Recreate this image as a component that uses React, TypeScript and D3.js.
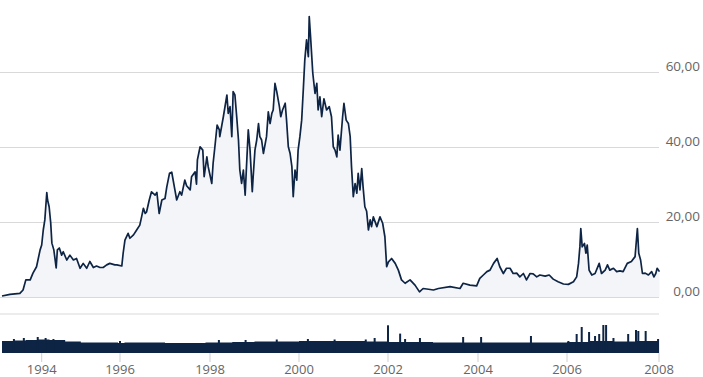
import React from "react";
import * as d3 from "d3";

// Price series: decimal year, price
const priceYears = [
  1993.0, 1993.2, 1993.45, 1993.53, 1993.6, 1993.71, 1993.78, 1993.87, 1993.96,
  1994.0, 1994.04, 1994.08, 1994.13, 1994.15, 1994.19, 1994.23, 1994.26, 1994.31, 1994.37, 1994.4,
  1994.45, 1994.51, 1994.55, 1994.64, 1994.72, 1994.81, 1994.89, 1994.98, 1995.06, 1995.15,
  1995.23, 1995.32, 1995.4, 1995.49, 1995.57, 1995.66, 1995.74, 1995.87, 1995.92,
  1996.04, 1996.07, 1996.11, 1996.18, 1996.22, 1996.3, 1996.37, 1996.44, 1996.48, 1996.52,
  1996.56, 1996.59, 1996.65, 1996.7, 1996.78, 1996.82, 1996.87, 1996.93, 1997.0, 1997.04,
  1997.1, 1997.15, 1997.22, 1997.26, 1997.33, 1997.37, 1997.44, 1997.48, 1997.56, 1997.59,
  1997.67, 1997.7, 1997.72, 1997.78, 1997.84, 1997.87, 1997.93, 1997.96,
  1998.04, 1998.07, 1998.11, 1998.16, 1998.21, 1998.22, 1998.3, 1998.38, 1998.41, 1998.45,
  1998.49, 1998.52, 1998.56, 1998.6, 1998.64, 1998.67, 1998.71, 1998.75, 1998.79, 1998.82,
  1998.86, 1998.9, 1998.95, 1998.97, 1999.01, 1999.05, 1999.09, 1999.12, 1999.16, 1999.2,
  1999.27, 1999.31, 1999.35, 1999.39, 1999.42, 1999.46, 1999.5, 1999.56, 1999.59, 1999.63,
  1999.69, 1999.72, 1999.76, 1999.8, 1999.84, 1999.87, 1999.91, 1999.95, 1999.98,
  2000.02, 2000.06, 2000.1, 2000.13, 2000.17, 2000.21, 2000.23, 2000.26, 2000.31, 2000.36,
  2000.4, 2000.43, 2000.47, 2000.51, 2000.56, 2000.62, 2000.68, 2000.73, 2000.77, 2000.81,
  2000.85, 2000.88, 2000.92, 2000.98, 2001.01, 2001.06, 2001.11, 2001.15, 2001.18, 2001.22,
  2001.26, 2001.3, 2001.33, 2001.37, 2001.41, 2001.44, 2001.48, 2001.52, 2001.56, 2001.6,
  2001.63, 2001.67, 2001.75, 2001.82, 2001.88, 2001.93, 2001.97,
  2002.01, 2002.08, 2002.16, 2002.23, 2002.3, 2002.38, 2002.49, 2002.6, 2002.7, 2002.78,
  2002.9, 2003.01, 2003.12, 2003.38, 2003.6, 2003.67, 2003.82, 2003.97,
  2004.04, 2004.12, 2004.2, 2004.27, 2004.35, 2004.43, 2004.49, 2004.57, 2004.64, 2004.72,
  2004.79, 2004.87, 2004.94, 2005.02, 2005.09, 2005.17, 2005.24, 2005.32, 2005.39, 2005.51,
  2005.6, 2005.69, 2005.8, 2005.92,
  2006.03, 2006.14, 2006.21, 2006.25, 2006.28, 2006.3, 2006.33, 2006.38, 2006.41, 2006.44,
  2006.48, 2006.54, 2006.61, 2006.7, 2006.75, 2006.83, 2006.88, 2006.93, 2007.01, 2007.08,
  2007.15, 2007.22, 2007.31, 2007.4, 2007.48, 2007.53, 2007.56, 2007.6, 2007.64, 2007.7,
  2007.77, 2007.84, 2007.89, 2007.93, 2007.96, 2008.01,
];
const priceValues = [
  0.4, 0.85, 1.1, 2, 4.7, 4.7, 6.5, 8.2, 12.7,
  14, 18, 20.7, 28, 26, 24.2, 19.9, 14.5, 12.7, 7.9, 12.7,
  13.2, 11.3, 12.2, 10, 11.3, 10, 10.4, 7.8, 9.1, 7.8,
  9.6, 8, 8.4, 8, 8, 8.7, 9.1, 8.7, 8.7,
  8.4, 11.8, 15.3, 17.1, 15.8, 16.7, 18, 19.3, 21.5, 23.8,
  22.4, 22.8, 26, 28.2, 27.3, 28, 22.4, 26, 26.4, 29.5,
  33.1, 33.4, 28.7, 26, 28.2, 27.3, 31.3, 29.8, 28.7, 32.2,
  33.5, 30.2, 36.7, 40.2, 39.3, 32.2, 37.5, 34.9,
  30.4, 35.8, 40.2, 46, 44.7, 42.9, 48.2, 54, 49.1, 50.9,
  42.9, 54.9, 54, 48.2, 42, 34, 30.4, 34, 27.3, 34.9,
  44.7, 39.3, 28.2, 32.2, 39.3, 42, 46.4, 42.9, 42, 38.4,
  42.9, 49.5, 46.4, 49.1, 50, 57.1, 54.9, 50.9, 48.2, 50,
  51.8, 47.3, 40.2, 38.4, 34.9, 26.9, 34, 31.3, 39.3,
  42.9, 47.3, 56.2, 63.3, 68.7, 64.2, 74.9, 69.5, 59.8, 54.4,
  57.1, 50, 53.5, 48.2, 53, 50, 50.9, 48.2, 40.2, 39.3,
  37.5, 43.3, 39.3, 48.2, 51.8, 47.3, 46.4, 42.9, 34.9, 26.9,
  30.4, 27.8, 33.1, 28.7, 34.4, 29.5, 24.2, 23, 18, 20.7,
  18.9, 21.5, 18.9, 21.5, 19.8, 16.2, 8.2,
  9.5, 10.4, 9.1, 7.3, 4.7, 3.8, 4.7, 3.3, 1.5, 2.4,
  2.2, 2, 2.4, 2.9, 2.4, 3.8, 3.3, 3.1,
  5.1, 6, 6.9, 7.3, 9.1, 10.4, 8.2, 6.4, 7.8, 7.8,
  6.4, 6.5, 5.5, 6.4, 4.7, 6.4, 6.3, 5.5, 6, 5.7,
  6, 4.9, 4.2, 3.6,
  3.5, 4.2, 5.5, 9.1, 13.5, 18.4, 13.5, 14.4, 11.8, 14,
  7.3, 6, 6.4, 9.1, 6.4, 7.3, 8.7, 7.3, 7.8, 6.9,
  7.1, 6.9, 9.1, 9.6, 10.9, 18.4, 11.8, 10, 6.4, 6.5,
  6, 6.9, 5.5, 6.4, 7.8, 6.9,
];

// Volume: base level (step) and spikes
const volBaseYears = [1993.0, 1993.3, 1993.6, 1993.9, 1994.2, 1994.6, 1995.0, 1995.95, 1996.1, 1997.0, 1997.9, 1998.5, 1999.0, 1999.5, 2000.0, 2000.5, 2001.0, 2001.5, 2002.0, 2003.0, 2004.0, 2005.0, 2006.0, 2006.5, 2007.0, 2007.5, 2008.0];
const volBase = [12, 12.5, 13, 13.5, 13, 11.5, 10.5, 10, 10.5, 10, 10.5, 11, 11.5, 11.5, 12, 12, 12, 11.5, 11, 10.5, 10.5, 10.5, 11, 12, 11.5, 12, 11];
const volSpikeYears = [1993.3, 1993.55, 1993.9, 1994.1, 1994.3, 1996.0, 1998.2, 1998.8, 1999.5, 2000.2, 2000.8, 2001.5, 2001.7,
  2002.0, 2002.27, 2002.38, 2002.71, 2003.67, 2004.07, 2005.19, 2006.03, 2006.21, 2006.32, 2006.48, 2006.61, 2006.7, 2006.79, 2006.85,
  2007.01, 2007.33, 2007.5, 2007.55, 2007.71, 2007.98];
const volSpikes = [14, 15, 16, 15, 14, 12, 13, 13, 13.5, 14, 13.5, 13.5, 15,
  27.7, 19.4, 14, 15, 16, 16, 17, 12, 19, 26, 21, 17, 19, 28, 28,
  15, 19, 23, 22, 22, 14];

const yTicks = [0, 20, 40, 60];
const yTickLabels = ["0,00", "20,00", "40,00", "60,00"];
const xTicks = [1994, 1996, 1998, 2000, 2002, 2004, 2006, 2008];

const W = 703;
const H = 377;
const NAVY = "#0e2444";
const FONT = "'Open Sans', 'Noto Sans', sans-serif";

export default function App() {
  const x = d3
    .scaleLinear()
    .domain([1993.0, 1994, 1996, 1998, 2000, 2002, 2004, 2006, 2008])
    .range([2, 41.7, 120, 210, 299, 388, 478, 567, 659]);
  const y = d3.scaleLinear().domain([0, 80]).range([297.5, -2.5]);
  const yv = d3.scaleLinear().domain([0, 30]).range([353, 323]);

  const price = priceYears.map((t, i) => [t, priceValues[i]] as [number, number]);
  const line = d3
    .line<[number, number]>()
    .x((d) => x(d[0]))
    .y((d) => y(d[1]));
  const area = d3
    .area<[number, number]>()
    .x((d) => x(d[0]))
    .y0(y(0))
    .y1((d) => y(d[1]));

  const vb = volBaseYears.map((t, i) => [t, volBase[i]] as [number, number]);
  const volArea = d3
    .area<[number, number]>()
    .curve(d3.curveStepAfter)
    .x((d) => x(d[0]))
    .y0(yv(0))
    .y1((d) => yv(d[1]));

  const gridX0 = 0;
  const gridX1 = x(2008);

  return (
    <svg
      width={W}
      height={H}
      style={{ position: "absolute", left: 0, top: 0, background: "#fff" }}
      fontFamily={FONT}
    >
      {yTicks.map((t, i) => (
        <g key={t}>
          <line x1={gridX0} x2={gridX1} y1={y(t)} y2={y(t)} stroke="#d9d9d9" strokeWidth={1} />
          <text x={700} y={y(t) - 2} textAnchor="end" fontSize={13.5} fill="#666">
            {yTickLabels[i]}
          </text>
        </g>
      ))}
      <path d={area(price) || ""} fill="#f3f5f8" />
      <line x1={gridX0} x2={gridX1} y1={y(0)} y2={y(0)} stroke="#d9d9d9" strokeWidth={1} />
      <path d={line(price) || ""} fill="none" stroke={NAVY} strokeWidth={1.7} strokeLinejoin="round" />

      <line x1={gridX0} x2={gridX1} y1={314} y2={314} stroke="#d9d9d9" strokeWidth={1} />
      <path d={volArea(vb) || ""} fill={NAVY} />
      {volSpikeYears.map((t, i) => (
        <rect key={i} x={x(t) - 1} width={2} y={yv(volSpikes[i])} height={yv(0) - yv(volSpikes[i])} fill={NAVY} />
      ))}

      {xTicks.map((t) => (
        <g key={t}>
          <line x1={x(t)} x2={x(t)} y1={353} y2={362} stroke="#cfcfcf" strokeWidth={1} />
          <text x={x(t)} y={373.5} textAnchor="middle" fontSize={13} fill="#666">
            {t}
          </text>
        </g>
      ))}
    </svg>
  );
}
